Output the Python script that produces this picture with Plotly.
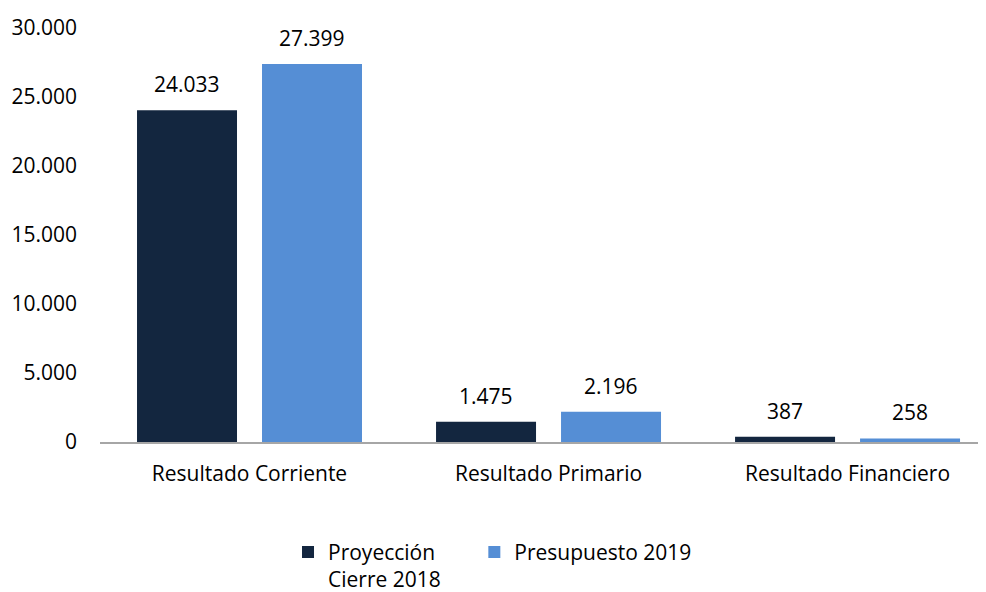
import plotly.graph_objects as go

# data
categorias = ["Resultado Corriente", "Resultado Primario", "Resultado Financiero"]
proyeccion_2018 = [24033, 1475, 387]
presupuesto_2019 = [27399, 2196, 258]
series_nombres = ["Proyección<br>Cierre 2018", "Presupuesto 2019"]
y_ticks = [0, 5000, 10000, 15000, 20000, 25000, 30000]

FONT = "Open Sans"
DARK = "#13263F"
LIGHT = "#558ED5"
SIZE = 21


def fmt(v):
    return "{:,}".format(v).replace(",", ".")


fig = go.Figure()
series = [(series_nombres[0], proyeccion_2018, DARK, -62.5, "legend"),
          (series_nombres[1], presupuesto_2019, LIGHT, 62.5, "legend2")]
for nombre, valores, color, shift, leg in series:
    fig.add_trace(go.Bar(x=categorias, y=valores, name=nombre, legend=leg,
                         marker=dict(color=color, line=dict(width=0))))
    # data labels sit a bit higher above the bars than plotly's outside text
    for cat, v in zip(categorias, valores):
        fig.add_annotation(x=cat, y=v, text=fmt(v), showarrow=False,
                           xshift=shift, yshift=10, yanchor="bottom",
                           font=dict(family=FONT, size=SIZE, color="#000000"))

# container ref so the legend doesn't push the bottom margin
leg_style = dict(orientation="h", xanchor="left", yref="container", y=0.103,
                 yanchor="top", valign="top", font=dict(size=SIZE), itemwidth=30)

# page body has an 8px margin, so the figure is a bit smaller than the window
fig.update_layout(
    width=978, height=584,
    margin=dict(l=92, r=0, t=20, b=150),
    plot_bgcolor="white", paper_bgcolor="white",
    separators=",.",
    barmode="group", bargap=0.164, bargroupgap=0.2,
    font=dict(family=FONT, size=SIZE, color="#000000"),
    showlegend=True,
    legend=dict(x=0.2122, **leg_style),
    legend2=dict(x=0.4225, **leg_style),
    xaxis=dict(range=[-0.5, 2.463], showline=True, linecolor="#A6A6A6", linewidth=1.5,
               ticks="", showgrid=False, tickfont=dict(size=SIZE), ticklabelstandoff=12,
               automargin=False),
    yaxis=dict(range=[0, 30000], tickvals=y_ticks, tickformat=",d", showgrid=False,
               showline=False, zeroline=False, ticks="", tickfont=dict(size=SIZE),
               ticklabelstandoff=22, automargin=False),
)

fig.write_html("out.html")
